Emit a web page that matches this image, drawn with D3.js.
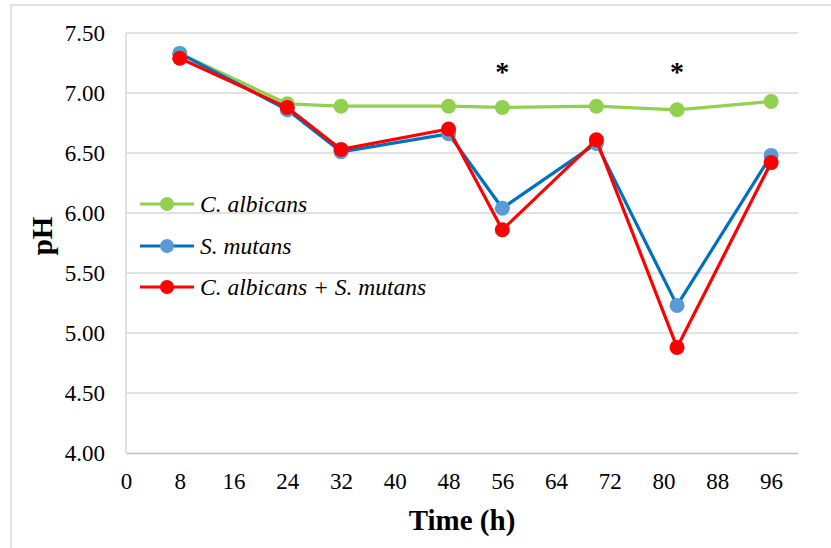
<!DOCTYPE html>
<html>
<head>
<meta charset="utf-8">
<script src="https://cdn.jsdelivr.net/npm/d3@7"></script>
<style>
  body { margin: 0; background: #fff; }
  svg { display: block; font-family: "Liberation Serif", "Times New Roman", serif; }
</style>
</head>
<body>
<svg id="chart" width="831" height="548"></svg>
<script>
// data
var times = [8, 24, 32, 48, 56, 70, 82, 96];
var albicans = [7.33, 6.91, 6.89, 6.89, 6.88, 6.89, 6.86, 6.93];
var mutans = [7.33, 6.86, 6.51, 6.66, 6.04, 6.58, 5.23, 6.48];
var mixed = [7.29, 6.88, 6.53, 6.70, 5.86, 6.61, 4.88, 6.42];
var xTicks = [0, 8, 16, 24, 32, 40, 48, 56, 64, 72, 80, 88, 96];
var yTicks = [4.0, 4.5, 5.0, 5.5, 6.0, 6.5, 7.0, 7.5];
var starTimes = [56, 82];
var starLevel = 7.22;

var series = [
    {name: "C. albicans", values: albicans, line: "#92d050", dot: "#92d050"},
    {name: "S. mutans", values: mutans, line: "#0070c0", dot: "#5b9bd5"},
    {name: "C. albicans + S. mutans", values: mixed, line: "#ff0000", dot: "#ff0000"}
];

var svg = d3.select("#chart");
var plotLeft = 126, plotRight = 798, plotTop = 33, plotBottom = 453;

var x = d3.scaleLinear().domain([0, 100]).range([plotLeft, plotRight]);
var y = d3.scaleLinear().domain([4, 7.5]).range([plotBottom, plotTop]);

// outer frame (only top and left edge are inside the picture)
svg.append("rect")
    .attr("x", 11).attr("y", 5)
    .attr("width", 840).attr("height", 560)
    .attr("fill", "none")
    .attr("stroke", "#d9d9d9")
    .attr("stroke-width", 1.5);

// gridlines
svg.append("g")
    .selectAll("line")
    .data(yTicks.slice(1))
    .enter()
    .append("line")
    .attr("x1", plotLeft).attr("x2", plotRight)
    .attr("y1", function(d){ return y(d); })
    .attr("y2", function(d){ return y(d); })
    .attr("stroke", "#d9d9d9")
    .attr("stroke-width", 1.5);

svg.append("line")
    .attr("x1", plotLeft).attr("x2", plotLeft)
    .attr("y1", plotTop).attr("y2", plotBottom)
    .attr("stroke", "#d9d9d9")
    .attr("stroke-width", 1.5);

// y axis
var yAxis = svg.append("g")
    .attr("transform", "translate(" + plotLeft + ",0)")
    .call(d3.axisLeft(y).tickValues(yTicks).tickFormat(d3.format(".2f")).tickSize(0).tickPadding(21));
yAxis.select(".domain").remove();
yAxis.selectAll("text")
    .attr("font-size", 23)
    .attr("fill", "#000")
    .attr("font-family", "Liberation Serif");

// x axis
var xAxis = svg.append("g")
    .attr("transform", "translate(0," + plotBottom + ")")
    .call(d3.axisBottom(x).tickValues(xTicks).tickSize(0).tickPadding(20));
xAxis.select(".domain")
    .attr("stroke", "#bfbfbf")
    .attr("stroke-width", 1.5);
xAxis.selectAll("text")
    .attr("font-size", 23)
    .attr("fill", "#000")
    .attr("font-family", "Liberation Serif");

// axis titles
svg.append("text")
    .attr("x", (plotLeft + plotRight) / 2)
    .attr("y", 530)
    .attr("text-anchor", "middle")
    .attr("font-size", 29)
    .attr("font-weight", "bold")
    .text("Time (h)");

svg.append("text")
    .attr("transform", "translate(52,236) rotate(-90)")
    .attr("text-anchor", "middle")
    .attr("font-size", 29)
    .attr("font-weight", "bold")
    .text("pH");

// lines and markers
var line = d3.line()
    .x(function(d, i){ return x(times[i]); })
    .y(function(d){ return y(d); });

series.forEach(function(s){
    var g = svg.append("g");
    g.append("path")
        .datum(s.values)
        .attr("d", line)
        .attr("fill", "none")
        .attr("stroke", s.line)
        .attr("stroke-width", 3.2)
        .attr("stroke-linejoin", "round");
    g.selectAll("circle")
        .data(s.values)
        .enter()
        .append("circle")
        .attr("cx", function(d, i){ return x(times[i]); })
        .attr("cy", function(d){ return y(d); })
        .attr("r", 7.5)
        .attr("fill", s.dot);
});

// significance marks
svg.selectAll(".star")
    .data(starTimes)
    .enter()
    .append("text")
    .attr("class", "star")
    .attr("x", function(d){ return x(d); })
    .attr("y", y(starLevel) + 14)
    .attr("text-anchor", "middle")
    .attr("font-size", 28)
    .attr("font-weight", "bold")
    .text("*");

// legend
var legend = svg.append("g");
var legendY = [204, 246, 287];
series.forEach(function(s, i){
    var row = legend.append("g").attr("transform", "translate(140," + legendY[i] + ")");
    row.append("line")
        .attr("x1", 0).attr("x2", 54)
        .attr("stroke", s.line)
        .attr("stroke-width", 3.2);
    row.append("circle")
        .attr("cx", 27).attr("r", 7)
        .attr("fill", s.dot);
    row.append("text")
        .attr("x", 60).attr("y", 8)
        .attr("font-size", 23.5)
        .attr("font-style", "italic")
        .text(s.name);
});
</script>
</body>
</html>
